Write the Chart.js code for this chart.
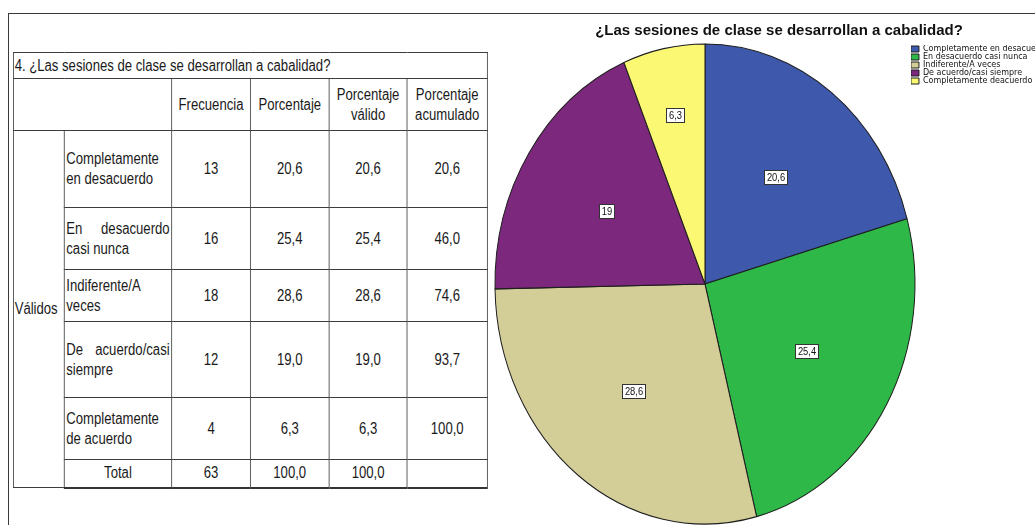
<!DOCTYPE html>
<html lang="es">
<head>
<meta charset="utf-8">
<title>¿Las sesiones de clase se desarrollan a cabalidad?</title>
<script src="https://cdn.jsdelivr.net/npm/chart.js@4.4.1/dist/chart.umd.min.js"></script>
<style>
  html, body { margin: 0; padding: 0; background: #fff; width: 1035px; height: 525px; overflow: hidden; }
  .frame { position: absolute; left: 8px; top: 13px; width: 1040px; height: 530px; border-top: 1px solid #3a3a3a; border-left: 1px solid #3a3a3a; }
  /* the table uses a narrow face; none is installed, so squeeze a regular one */
  table.freq { position: absolute; left: 13px; top: 52px; width: 578px; border-collapse: collapse; table-layout: fixed;
    transform: scaleX(0.82); transform-origin: 0 0;
    font-family: "Liberation Sans", Arial, sans-serif; font-size: 16px; line-height: 20px; color: #1a1a1a; }
  table.freq td { border: 1px solid #3c3c3c; padding: 0 2px; text-align: center; vertical-align: middle; overflow: hidden; }
  table.freq td.caption { text-align: left; padding-left: 1px; white-space: nowrap; }
  table.freq td.group { text-align: left; padding-left: 1px; }
  table.freq td.cat { text-align: justify; padding-left: 2px; }
  table.freq tr:last-child td { border-bottom: 2px solid #333; }
  table.freq tr:nth-child(1) { height: 26px; }
  table.freq tr:nth-child(2) { height: 52px; }
  table.freq tr:nth-child(3) { height: 77px; }
  table.freq tr:nth-child(4) { height: 62px; }
  table.freq tr:nth-child(5) { height: 52px; }
  table.freq tr:nth-child(6) { height: 76px; }
  table.freq tr:nth-child(7) { height: 62px; }
  table.freq tr:nth-child(8) { height: 28px; }
  .chart-box { position: absolute; left: 480px; top: 14px; width: 579px; height: 511px; }
</style>
</head>
<body>
<div class="frame"></div>
<table class="freq" id="freqTable">
  <colgroup>
    <col style="width:62px"><col style="width:131px"><col style="width:96px"><col style="width:96px"><col style="width:95px"><col style="width:98px">
  </colgroup>
  <tbody></tbody>
</table>
<div class="chart-box"><canvas id="pieChart"></canvas></div>

<script>
// Frequency table data
const question = '4. ¿Las sesiones de clase se desarrollan a cabalidad?';
const columnHeaders = ['Frecuencia', 'Porcentaje', 'Porcentaje<br>válido', 'Porcentaje<br>acumulado'];
const categories = ['Completamente en desacuerdo', 'En desacuerdo casi nunca', 'Indiferente/A veces', 'De acuerdo/casi siempre', 'Completamente de acuerdo'];
const frecuencia = [13, 16, 18, 12, 4];
const porcentaje = [20.6, 25.4, 28.6, 19.0, 6.3];
const porcentajeValido = [20.6, 25.4, 28.6, 19.0, 6.3];
const porcentajeAcumulado = [20.6, 46.0, 74.6, 93.7, 100.0];
const totals = ['63', '100,0', '100,0', ''];

// Pie chart data
const chartTitle = '¿Las sesiones de clase se desarrollan a cabalidad?';
const legendLabels = ['Completamente en desacuerdo', 'En desacuerdo casi nunca', 'Indiferente/A veces', 'De acuerdo/casi siempre', 'Completamente deacuerdo'];
const pieColors = ['#3E58AC', '#2EB848', '#D3CE97', '#7C287D', '#FBF873'];

const stretchY = 1.143; // the pasted pie is taller than wide

const fmt = v => v.toFixed(1).replace('.', ',');

// build the table
const tbody = document.querySelector('#freqTable tbody');
let html = `<tr><td class="caption" colspan="6">${question}</td></tr>`;
html += '<tr><td colspan="2"></td>' + columnHeaders.map(h => `<td>${h}</td>`).join('') + '</tr>';
categories.forEach((cat, i) => {
  html += '<tr>';
  if (i === 0) html += `<td class="group" rowspan="${categories.length + 1}">Válidos</td>`;
  html += `<td class="cat">${cat}</td><td>${frecuencia[i]}</td><td>${fmt(porcentaje[i])}</td>` +
          `<td>${fmt(porcentajeValido[i])}</td><td>${fmt(porcentajeAcumulado[i])}</td></tr>`;
});
html += '<tr><td>Total</td>' + totals.map(t => `<td>${t}</td>`).join('') + '</tr>';
tbody.innerHTML = html;

// stretch the pie vertically and put the boxed value labels on it
const pieLabels = {
  id: 'pieLabels',
  beforeDatasetsDraw(chart) {
    const arc = chart.getDatasetMeta(0).data[0];
    const ctx = chart.ctx;
    ctx.save();
    ctx.translate(arc.x, arc.y);
    ctx.scale(1, stretchY);
    ctx.translate(-arc.x, -arc.y);
  },
  afterDatasetsDraw(chart) {
    const ctx = chart.ctx;
    ctx.restore();
    const values = chart.data.datasets[0].data;
    chart.getDatasetMeta(0).data.forEach((arc, i) => {
      const {x, y, startAngle, endAngle, outerRadius} = arc.getProps(['x', 'y', 'startAngle', 'endAngle', 'outerRadius'], true);
      const mid = (startAngle + endAngle) / 2;
      const f = values[i] < 10 ? 0.72 : 0.56;
      const lx = x + Math.cos(mid) * outerRadius * f;
      const ly = y + Math.sin(mid) * outerRadius * f * stretchY;
      const text = String(values[i]).replace('.', ',');
      ctx.save();
      ctx.font = '11px "Liberation Sans", sans-serif';
      const w = Math.round(ctx.measureText(text).width * 0.85 + 5);
      const h = 14;
      const bx = Math.round(lx - w / 2) + 0.5;
      const by = Math.round(ly - h / 2) + 0.5;
      ctx.fillStyle = '#fff';
      ctx.fillRect(bx, by, w, h);
      ctx.strokeStyle = '#333';
      ctx.lineWidth = 1;
      ctx.strokeRect(bx, by, w, h);
      ctx.fillStyle = '#111';
      ctx.textAlign = 'center';
      ctx.textBaseline = 'middle';
      // narrow the digits a little, like the original labels
      ctx.translate(bx + w / 2, by + h / 2 + 0.5);
      ctx.scale(0.85, 1);
      ctx.fillText(text, 0, 0);
      ctx.restore();
    });
  }
};

new Chart(document.getElementById('pieChart'), {
  type: 'pie',
  data: {
    labels: legendLabels,
    datasets: [{
      data: porcentaje,
      backgroundColor: pieColors,
      borderColor: '#1e1e1e',
      borderWidth: 1,
      radius: 210,
      clip: false
    }]
  },
  options: {
    responsive: true,
    maintainAspectRatio: false,
    animation: false,
    events: [],
    layout: { padding: { left: 19, top: 0, right: 0, bottom: 2 } },
    plugins: {
      title: {
        display: true,
        text: chartTitle,
        color: '#111',
        font: { family: '"Liberation Sans", Arial, sans-serif', size: 15, weight: 'bold' },
        padding: { top: 8, bottom: 5 }
      },
      legend: {
        position: 'right',
        align: 'start',
        fullSize: false,
        labels: {
          boxWidth: 8,
          boxHeight: 6,
          padding: 0,
          color: '#111',
          font: { family: '"DejaVu Sans", sans-serif', size: 8 }
        }
      },
      tooltip: { enabled: false }
    }
  },
  plugins: [pieLabels]
});
</script>
</body>
</html>
